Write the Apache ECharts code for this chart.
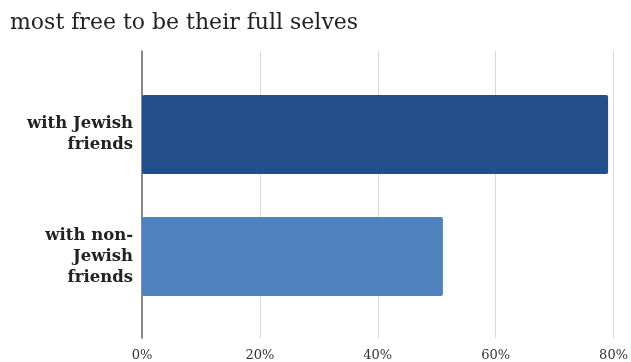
<!DOCTYPE html>
<html><head><meta charset="utf-8">
<script src="https://cdn.jsdelivr.net/npm/echarts@6/dist/echarts.min.js"></script>
<style>html,body{margin:0;padding:0;background:#fff}#c{width:631px;height:362px}</style>
</head><body><div id="c"></div>
<script>
var categories = ['with Jewish\nfriends', 'with non-\nJewish\nfriends'];
var values = [79, 51];
var barColors = ['#224f8a', '#4f81bd'];
var tickMax = 80;
var tickInterval = 20;
var titleText = 'most free to be their full selves';

var chart = echarts.init(document.getElementById('c'));
var serif = '"DejaVu Serif", Georgia, serif';
chart.setOption({
  animation: false,
  title: { text: titleText, left: 5, top: 7, textStyle: { fontFamily: serif, fontWeight: 'normal', fontSize: 22, color: '#222' } },
  grid: [
    { left: 142, right: 17, top: 51, bottom: 24, containLabel: false },
    { left: 142, right: 17, top: 73.5, bottom: 44.5, containLabel: false }
  ],
  xAxis: [
    { gridIndex: 0, type: 'value', min: 0, max: tickMax, interval: tickInterval,
      axisLine: { show: false }, axisTick: { show: false },
      splitLine: { show: true, lineStyle: { color: '#d9d9d9', width: 1 } },
      axisLabel: { formatter: '{value}%', margin: 11, fontFamily: serif, fontSize: 13, color: '#333' } },
    { gridIndex: 1, type: 'value', min: 0, max: tickMax, interval: tickInterval, show: false }
  ],
  yAxis: [
    { gridIndex: 0, type: 'category', data: [''], axisLine: { show: true, lineStyle: { color: '#666', width: 1.5 } },
      axisTick: { show: false }, axisLabel: { show: false }, splitLine: { show: false } },
    { gridIndex: 1, type: 'category', inverse: true, data: categories,
      axisLine: { show: false }, axisTick: { show: false },
      axisLabel: { margin: 9, fontFamily: serif, fontWeight: 'bold', fontSize: 16.5, color: '#222', lineHeight: 21, align: 'right' } }
  ],
  series: [{
    type: 'bar', xAxisIndex: 1, yAxisIndex: 1, barWidth: 79,
    data: values.map(function (v, i) { return { value: v, itemStyle: { color: barColors[i], borderRadius: 2 } }; })
  }]
});
</script></body></html>
